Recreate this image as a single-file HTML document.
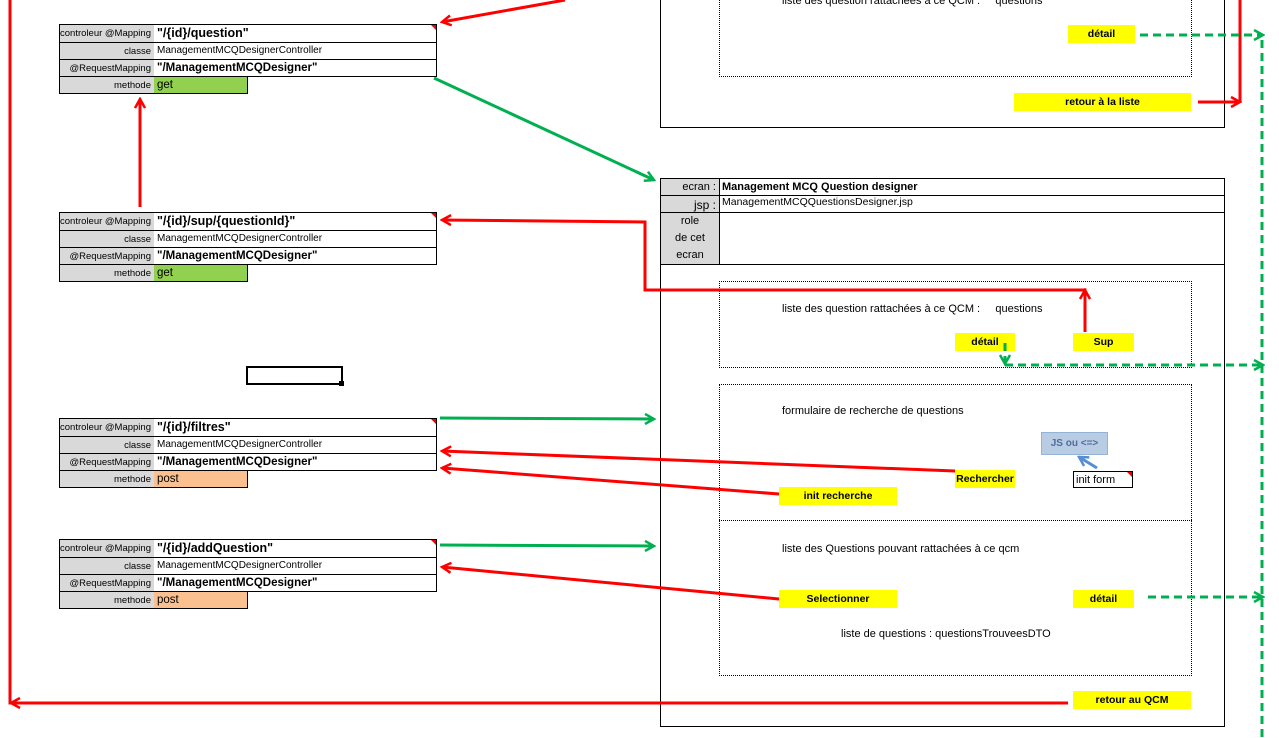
<!DOCTYPE html>
<html><head><meta charset="utf-8"><style>
body{margin:0;width:1279px;height:738px;background:#fff;position:relative;overflow:hidden;font-family:"Liberation Sans",sans-serif;}
.a{position:absolute;box-sizing:border-box;}
.tb{position:absolute;border:1px solid #000;box-sizing:border-box;}
.lab{position:absolute;background:#d9d9d9;text-align:right;font-size:9.5px;color:#000;box-sizing:border-box;padding-right:3px;}
.val{position:absolute;font-size:10px;padding-left:3px;box-sizing:border-box;white-space:nowrap;}
.big{font-size:12.5px;font-weight:bold;}
.y{position:absolute;background:#ffff00;font-size:10.5px;font-weight:bold;text-align:center;box-sizing:border-box;}
.dot{position:absolute;border:1px dotted #000;box-sizing:border-box;}
.t{position:absolute;font-size:11px;white-space:nowrap;}
.hl{position:absolute;height:1px;background:#000;}
.tri{position:absolute;width:0;height:0;border-top:5px solid #e00;border-left:5px solid transparent;}
</style></head><body>

<div class="a" style="left:59px;top:24px;width:378px;height:70px;">
 <div class="tb" style="left:0;top:0;width:378px;height:53px;"></div>
 <div class="lab" style="left:1px;top:1px;width:94px;height:17px;line-height:18px;">controleur @Mapping</div>
 <div class="val big" style="left:95px;top:0;height:18px;line-height:19px;">"/{id}/question"</div>
 <div class="hl" style="left:0;top:18px;width:378px;"></div>
 <div class="lab" style="left:1px;top:19px;width:94px;height:16px;line-height:17px;">classe</div>
 <div class="val" style="left:95px;top:18px;height:17px;line-height:18px;">ManagementMCQDesignerController</div>
 <div class="hl" style="left:0;top:35px;width:378px;"></div>
 <div class="lab" style="left:1px;top:36px;width:94px;height:16px;line-height:17px;">@RequestMapping</div>
 <div class="val big" style="left:95px;top:35px;height:17px;line-height:18px;font-size:11.5px;">"/ManagementMCQDesigner"</div>
 <div class="tb" style="left:0;top:52px;width:189px;height:18px;"></div>
 <div class="lab" style="left:1px;top:53px;width:94px;height:16px;line-height:17px;">methode</div>
 <div class="val" style="left:95px;top:53px;width:93px;height:16px;line-height:17px;background:#92d050;font-size:11.5px;">get</div>
 <div class="tri" style="left:372px;top:1px;"></div>
</div>

<div class="a" style="left:59px;top:212px;width:378px;height:70px;">
 <div class="tb" style="left:0;top:0;width:378px;height:53px;"></div>
 <div class="lab" style="left:1px;top:1px;width:94px;height:17px;line-height:18px;">controleur @Mapping</div>
 <div class="val big" style="left:95px;top:0;height:18px;line-height:19px;">"/{id}/sup/{questionId}"</div>
 <div class="hl" style="left:0;top:18px;width:378px;"></div>
 <div class="lab" style="left:1px;top:19px;width:94px;height:16px;line-height:17px;">classe</div>
 <div class="val" style="left:95px;top:18px;height:17px;line-height:18px;">ManagementMCQDesignerController</div>
 <div class="hl" style="left:0;top:35px;width:378px;"></div>
 <div class="lab" style="left:1px;top:36px;width:94px;height:16px;line-height:17px;">@RequestMapping</div>
 <div class="val big" style="left:95px;top:35px;height:17px;line-height:18px;font-size:11.5px;">"/ManagementMCQDesigner"</div>
 <div class="tb" style="left:0;top:52px;width:189px;height:18px;"></div>
 <div class="lab" style="left:1px;top:53px;width:94px;height:16px;line-height:17px;">methode</div>
 <div class="val" style="left:95px;top:53px;width:93px;height:16px;line-height:17px;background:#92d050;font-size:11.5px;">get</div>
 <div class="tri" style="left:372px;top:1px;"></div>
</div>

<div class="a" style="left:59px;top:418px;width:378px;height:70px;">
 <div class="tb" style="left:0;top:0;width:378px;height:53px;"></div>
 <div class="lab" style="left:1px;top:1px;width:94px;height:17px;line-height:18px;">controleur @Mapping</div>
 <div class="val big" style="left:95px;top:0;height:18px;line-height:19px;">"/{id}/filtres"</div>
 <div class="hl" style="left:0;top:18px;width:378px;"></div>
 <div class="lab" style="left:1px;top:19px;width:94px;height:16px;line-height:17px;">classe</div>
 <div class="val" style="left:95px;top:18px;height:17px;line-height:18px;">ManagementMCQDesignerController</div>
 <div class="hl" style="left:0;top:35px;width:378px;"></div>
 <div class="lab" style="left:1px;top:36px;width:94px;height:16px;line-height:17px;">@RequestMapping</div>
 <div class="val big" style="left:95px;top:35px;height:17px;line-height:18px;font-size:11.5px;">"/ManagementMCQDesigner"</div>
 <div class="tb" style="left:0;top:52px;width:189px;height:18px;"></div>
 <div class="lab" style="left:1px;top:53px;width:94px;height:16px;line-height:17px;">methode</div>
 <div class="val" style="left:95px;top:53px;width:93px;height:16px;line-height:17px;background:#fac090;font-size:11.5px;">post</div>
 <div class="tri" style="left:372px;top:1px;"></div>
</div>

<div class="a" style="left:59px;top:539px;width:378px;height:70px;">
 <div class="tb" style="left:0;top:0;width:378px;height:53px;"></div>
 <div class="lab" style="left:1px;top:1px;width:94px;height:17px;line-height:18px;">controleur @Mapping</div>
 <div class="val big" style="left:95px;top:0;height:18px;line-height:19px;">"/{id}/addQuestion"</div>
 <div class="hl" style="left:0;top:18px;width:378px;"></div>
 <div class="lab" style="left:1px;top:19px;width:94px;height:16px;line-height:17px;">classe</div>
 <div class="val" style="left:95px;top:18px;height:17px;line-height:18px;">ManagementMCQDesignerController</div>
 <div class="hl" style="left:0;top:35px;width:378px;"></div>
 <div class="lab" style="left:1px;top:36px;width:94px;height:16px;line-height:17px;">@RequestMapping</div>
 <div class="val big" style="left:95px;top:35px;height:17px;line-height:18px;font-size:11.5px;">"/ManagementMCQDesigner"</div>
 <div class="tb" style="left:0;top:52px;width:189px;height:18px;"></div>
 <div class="lab" style="left:1px;top:53px;width:94px;height:16px;line-height:17px;">methode</div>
 <div class="val" style="left:95px;top:53px;width:93px;height:16px;line-height:17px;background:#fac090;font-size:11.5px;">post</div>
 <div class="tri" style="left:372px;top:1px;"></div>
</div>

<div class="a" style="left:246px;top:366px;width:97px;height:19px;border:2px solid #000;"></div>
<div class="a" style="left:339px;top:381px;width:5px;height:5px;background:#000;"></div>

<div class="a" style="left:660px;top:-5px;width:565px;height:133px;border:1px solid #000;"></div>
<div class="dot" style="left:719px;top:-5px;width:473px;height:82px;"></div>
<div class="t" style="left:782px;top:-5px;">liste des question rattachées à ce QCM :&nbsp;&nbsp;&nbsp;&nbsp; questions</div>
<div class="y" style="left:1068px;top:25px;width:67px;height:18px;line-height:19px;">détail</div>
<div class="y" style="left:1014px;top:93px;width:177px;height:18px;line-height:19px;">retour à la liste</div>

<div class="a" style="left:660px;top:178px;width:565px;height:549px;border:1px solid #000;"></div>
<div class="lab" style="left:661px;top:179px;width:58px;height:85px;"></div>
<div class="lab" style="left:661px;top:179px;width:58px;height:16px;line-height:17px;font-size:11px;">ecran :</div>
<div class="lab" style="left:661px;top:196px;width:58px;height:16px;line-height:19px;font-size:12px;">jsp :</div>
<div class="lab" style="left:661px;top:213px;width:58px;height:51px;text-align:center;font-size:11px;line-height:17px;padding:0;">role<br>de cet<br>ecran</div>
<div class="a" style="left:719px;top:178px;width:1px;height:86px;background:#000;"></div>
<div class="hl" style="left:660px;top:195px;width:565px;"></div>
<div class="hl" style="left:660px;top:212px;width:565px;"></div>
<div class="hl" style="left:660px;top:264px;width:565px;"></div>
<div class="t" style="left:722px;top:181px;font-weight:bold;font-size:11px;">Management MCQ Question designer</div>
<div class="t" style="left:722px;top:196px;font-size:10.5px;">ManagementMCQQuestionsDesigner.jsp</div>

<div class="dot" style="left:719px;top:281px;width:473px;height:87px;"></div>
<div class="t" style="left:782px;top:303px;">liste des question rattachées à ce QCM :&nbsp;&nbsp;&nbsp;&nbsp; questions</div>
<div class="y" style="left:955px;top:333px;width:60px;height:18px;line-height:19px;">détail</div>
<div class="y" style="left:1073px;top:333px;width:61px;height:18px;line-height:19px;">Sup</div>

<div class="dot" style="left:719px;top:384px;width:473px;height:292px;"></div>
<div class="a" style="left:719px;top:520px;width:473px;border-top:1px dotted #000;"></div>
<div class="t" style="left:782px;top:405px;">formulaire de recherche de questions</div>
<div class="a" style="left:1041px;top:432px;width:67px;height:23px;background:#b8cce4;border:1px solid #95b3d7;color:#4f6d9a;font-size:10px;font-weight:bold;line-height:21px;text-align:center;">JS ou &lt;=&gt;</div>
<div class="y" style="left:955px;top:470px;width:60px;height:18px;line-height:19px;">Rechercher</div>
<div class="a" style="left:1073px;top:471px;width:60px;height:17px;border:1px solid #000;font-size:11px;line-height:17px;padding-left:2px;">init form</div>
<div class="tri" style="left:1127px;top:472px;"></div>
<div class="y" style="left:779px;top:487px;width:118px;height:18px;line-height:19px;">init recherche</div>

<div class="t" style="left:782px;top:543px;">liste des Questions pouvant rattachées à ce qcm</div>
<div class="y" style="left:779px;top:590px;width:118px;height:18px;line-height:19px;">Selectionner</div>
<div class="y" style="left:1073px;top:590px;width:61px;height:18px;line-height:19px;">détail</div>
<div class="t" style="left:841px;top:628px;">liste de questions : questionsTrouveesDTO</div>
<div class="y" style="left:1073px;top:691px;width:118px;height:18px;line-height:19px;">retour au QCM</div>

<svg class="a" style="left:0;top:0;" width="1279" height="738" viewBox="0 0 1279 738">
<defs>
<marker id="r" markerWidth="12" markerHeight="12" refX="10" refY="6" orient="auto" markerUnits="userSpaceOnUse" viewBox="0 0 12 12"><path d="M1,1 L10,6 L1,11" fill="none" stroke="#ff0000" stroke-width="2.5"/></marker>
<marker id="g" markerWidth="12" markerHeight="12" refX="10" refY="6" orient="auto" markerUnits="userSpaceOnUse" viewBox="0 0 12 12"><path d="M1,1 L10,6 L1,11" fill="none" stroke="#00b050" stroke-width="2.5"/></marker>
<marker id="b" markerWidth="12" markerHeight="12" refX="10" refY="6" orient="auto" markerUnits="userSpaceOnUse" viewBox="0 0 12 12"><path d="M1,1 L10,6 L1,11" fill="none" stroke="#558ed5" stroke-width="2.5"/></marker>
</defs>
<g fill="none" stroke="#ff0000" stroke-width="3">
<line x1="565" y1="0" x2="442" y2="22" marker-end="url(#r)"/>
<polyline points="10,0 10,703 1068,703"/>
<line x1="30" y1="703" x2="11" y2="703" marker-end="url(#r)"/>
<line x1="1240" y1="0" x2="1240" y2="102"/>
<line x1="1198" y1="102" x2="1240" y2="102" marker-end="url(#r)"/>
<line x1="140" y1="207" x2="140" y2="99" marker-end="url(#r)"/>
<polyline points="1085,332 1085,290 645,290 645,222 442,220" marker-end="url(#r)"/>
<line x1="1085" y1="310" x2="1085" y2="290" marker-end="url(#r)"/>
<line x1="955" y1="471" x2="442" y2="451" marker-end="url(#r)"/>
<line x1="779" y1="494" x2="442" y2="468" marker-end="url(#r)"/>
<line x1="779" y1="599" x2="442" y2="567" marker-end="url(#r)"/>
</g>
<g fill="none" stroke="#00b050" stroke-width="3">
<line x1="434" y1="78" x2="654" y2="180" marker-end="url(#g)"/>
<line x1="440" y1="418" x2="654" y2="419" marker-end="url(#g)"/>
<line x1="440" y1="545" x2="654" y2="546" marker-end="url(#g)"/>
<g stroke-dasharray="8,5">
<line x1="1140" y1="35" x2="1263" y2="35" marker-end="url(#g)"/>
<line x1="1262" y1="40" x2="1262" y2="738"/>
<line x1="1005" y1="343" x2="1005" y2="364" marker-end="url(#g)"/>
<line x1="1005" y1="365" x2="1263" y2="365" marker-end="url(#g)"/>
<line x1="1148" y1="597" x2="1263" y2="597" marker-end="url(#g)"/>
</g>
</g>
<line x1="1097" y1="468" x2="1079" y2="457" stroke="#558ed5" stroke-width="3" marker-end="url(#b)"/>
</svg>
</body></html>
